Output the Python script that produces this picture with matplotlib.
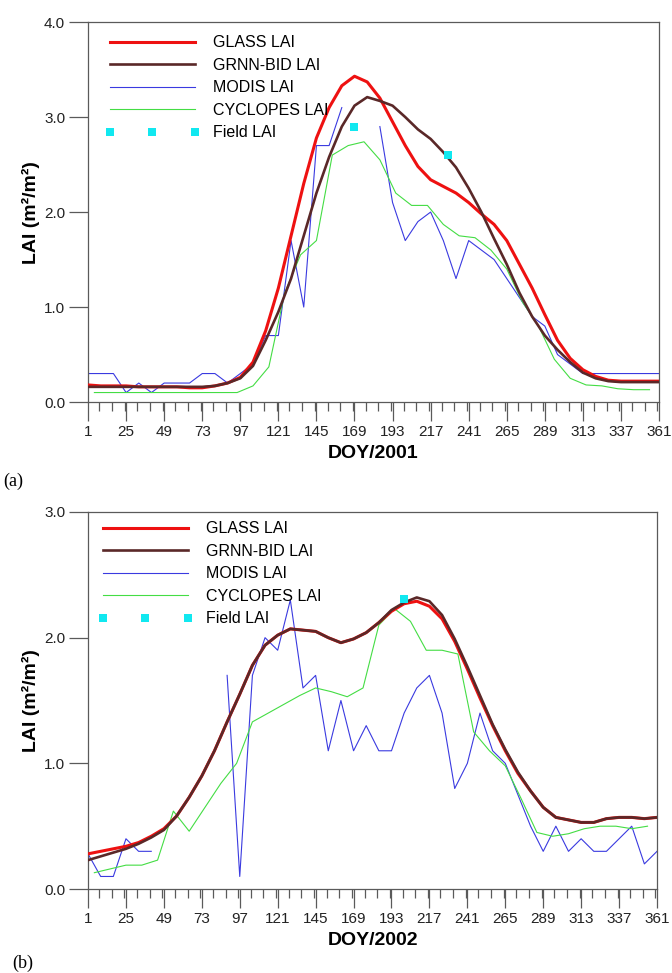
import numpy as np
import matplotlib.pyplot as plt
from matplotlib.ticker import MultipleLocator, FixedLocator

# 8-day products (GLASS, GRNN-BID, MODIS)
doy8 = np.arange(1, 362, 8)
# 10-day product (CYCLOPES)
doy10 = np.arange(5, 356, 10)

# ---- 2001 ----
glass_2001 = [0.18, 0.17, 0.17, 0.17, 0.16, 0.16, 0.16, 0.16, 0.15, 0.15,
              0.17, 0.20, 0.26, 0.42, 0.75, 1.20, 1.75, 2.30, 2.78, 3.10,
              3.33, 3.43, 3.37, 3.20, 2.95, 2.70, 2.48, 2.34, 2.27, 2.20,
              2.10, 1.98, 1.87, 1.70, 1.45, 1.20, 0.92, 0.65, 0.46, 0.34,
              0.27, 0.23, 0.22, 0.22, 0.22, 0.22]
grnn_2001 = [0.16, 0.16, 0.16, 0.16, 0.16, 0.16, 0.16, 0.16, 0.16, 0.16,
             0.17, 0.20, 0.25, 0.38, 0.65, 0.95, 1.30, 1.75, 2.20, 2.58,
             2.90, 3.12, 3.21, 3.17, 3.12, 3.00, 2.87, 2.77, 2.63, 2.47,
             2.25, 2.00, 1.72, 1.45, 1.15, 0.90, 0.70, 0.55, 0.42, 0.31,
             0.25, 0.22, 0.21, 0.21, 0.21, 0.21]
modis_2001 = [0.3, 0.3, 0.3, 0.1, 0.2, 0.1, 0.2, 0.2, 0.2, 0.3,
              0.3, 0.2, 0.3, 0.4, 0.7, 0.7, 1.7, 1.0, 2.7, 2.7,
              3.1, np.nan, np.nan, 2.9, 2.1, 1.7, 1.9, 2.0, 1.7, 1.3,
              1.7, 1.6, 1.5, 1.3, 1.1, 0.9, 0.8, 0.5, 0.4, 0.3,
              0.3, 0.3, 0.3, 0.3, 0.3, 0.3]
cyclopes_2001 = [0.10, 0.10, 0.10, 0.10, 0.10, 0.10, 0.10, 0.10, 0.10, 0.10,
                 0.17, 0.37, 1.15, 1.55, 1.70, 2.60, 2.70, 2.74, 2.55, 2.20,
                 2.07, 2.07, 1.87, 1.75, 1.73, 1.60, 1.40, 1.05, 0.80, 0.45,
                 0.25, 0.18, 0.17, 0.14, 0.13, 0.13]
field_doy_2001 = [169, 228]
field_2001 = [2.9, 2.6]

# ---- 2002 ----
glass_2002 = [0.28, 0.30, 0.32, 0.34, 0.37, 0.42, 0.48, 0.58, 0.73, 0.90,
              1.10, 1.33, 1.55, 1.78, 1.94, 2.02, 2.07, 2.06, 2.05, 2.00,
              1.96, 1.99, 2.04, 2.12, 2.21, 2.27, 2.29, 2.25, 2.15, 1.97,
              1.75, 1.52, 1.30, 1.10, 0.92, 0.78, 0.65, 0.57, 0.55, 0.53,
              0.53, 0.56, 0.57, 0.57, 0.56, 0.57]
grnn_2002 = [0.23, 0.26, 0.29, 0.32, 0.36, 0.41, 0.47, 0.58, 0.73, 0.90,
             1.10, 1.33, 1.55, 1.78, 1.94, 2.02, 2.07, 2.06, 2.05, 2.00,
             1.96, 1.99, 2.04, 2.12, 2.22, 2.28, 2.32, 2.29, 2.18, 1.99,
             1.77, 1.54, 1.31, 1.11, 0.93, 0.78, 0.65, 0.57, 0.55, 0.53,
             0.53, 0.56, 0.57, 0.57, 0.56, 0.57]
modis_2002 = [0.28, 0.1, 0.1, 0.4, 0.3, 0.3, np.nan, np.nan, np.nan, np.nan,
              np.nan, 1.7, 0.1, 1.7, 2.0, 1.9, 2.3, 1.6, 1.7, 1.1,
              1.5, 1.1, 1.3, 1.1, 1.1, 1.4, 1.6, 1.7, 1.4, 0.8,
              1.0, 1.4, 1.1, 1.0, 0.75, 0.5, 0.3, 0.5, 0.3, 0.4,
              0.3, 0.3, 0.4, 0.5, 0.2, 0.3]
cyclopes_2002 = [0.13, 0.16, 0.19, 0.19, 0.23, 0.62, 0.46, 0.65, 0.84, 1.00,
                 1.33, 1.40, 1.47, 1.54, 1.60, 1.57, 1.53, 1.60, 2.10, 2.23,
                 2.13, 1.90, 1.90, 1.87, 1.25, 1.10, 0.98, 0.72, 0.45, 0.42,
                 0.44, 0.48, 0.50, 0.50, 0.48, 0.50]
field_doy_2002 = [201]
field_2002 = [2.31]

xticks = np.arange(1, 362, 24)

plt.rcParams['font.family'] = ['Liberation Sans', 'DejaVu Sans']
axcol = '#5a5a5a'


def panel(ax, glass, grnn, modis, cyc, fdoy, fval, ymax, year, leg_anchor):
    ax.plot(doy8, glass, color='#ee1111', lw=2.2, label='GLASS LAI', zorder=3)
    ax.plot(doy8, grnn, color='#5a2828', lw=1.9, label='GRNN-BID LAI', zorder=4)
    ax.plot(doy8, modis, color='#3a3ae0', lw=0.8, label='MODIS LAI', zorder=2)
    ax.plot(doy10, cyc, color='#44dd44', lw=0.8, label='CYCLOPES LAI', zorder=2)
    ax.plot(fdoy, fval, ls='none', marker='s', ms=5.5, mew=0, color='#11e8f0',
            label='Field LAI', zorder=5)

    ax.set_xlim(1, 361)
    ax.set_ylim(0, ymax)
    ax.xaxis.set_major_locator(FixedLocator(xticks))
    ax.xaxis.set_minor_locator(MultipleLocator(8))
    ax.set_xticklabels([str(t) for t in xticks])
    yt = np.arange(0, ymax + 0.01, 1.0)
    ax.yaxis.set_major_locator(FixedLocator(yt))
    ax.set_yticklabels(['%.1f' % v for v in yt])

    ax.tick_params(axis='x', which='major', direction='out', length=13.5,
                   width=0.9, color=axcol, labelsize=11, pad=3, labelcolor='#222222')
    ax.tick_params(axis='x', which='minor', direction='out', length=6.5,
                   width=0.9, color=axcol)
    ax.tick_params(axis='y', which='major', direction='out', length=13.5,
                   width=0.9, color=axcol, labelsize=11, pad=3, labelcolor='#222222')
    for s in ax.spines.values():
        s.set_color(axcol)
        s.set_linewidth(0.9)

    ax.set_xlabel('DOY/' + year, fontsize=14, fontweight='bold', labelpad=4)
    ax.set_ylabel('LAI (m²/m²)', fontsize=14, fontweight='bold', labelpad=3)

    ax.legend(loc='upper left', bbox_to_anchor=leg_anchor, frameon=False,
              fontsize=11.5, handlelength=5.9, handletextpad=0.85,
              labelspacing=0.47, numpoints=3, borderpad=0, borderaxespad=0)


fig = plt.figure(figsize=(6.72, 9.73), dpi=100)

ax1 = fig.add_axes([0.131, 0.5868, 0.8497, 0.3905])
panel(ax1, glass_2001, grnn_2001, modis_2001, cyclopes_2001,
      field_doy_2001, field_2001, 4.0, '2001', (0.03, 0.965))

ax2 = fig.add_axes([0.131, 0.0863, 0.8467, 0.3875])
panel(ax2, glass_2002, grnn_2002, modis_2002, cyclopes_2002,
      field_doy_2002, field_2002, 3.0, '2002', (0.018, 0.975))

fig.text(0.005, 1 - 481 / 973, '(a)', family='Liberation Serif', fontsize=13,
         va='center', ha='left')
fig.text(0.018, 1 - 963 / 973, '(b)', family='Liberation Serif', fontsize=13,
         va='center', ha='left')

fig.savefig('out.png', dpi=100)
